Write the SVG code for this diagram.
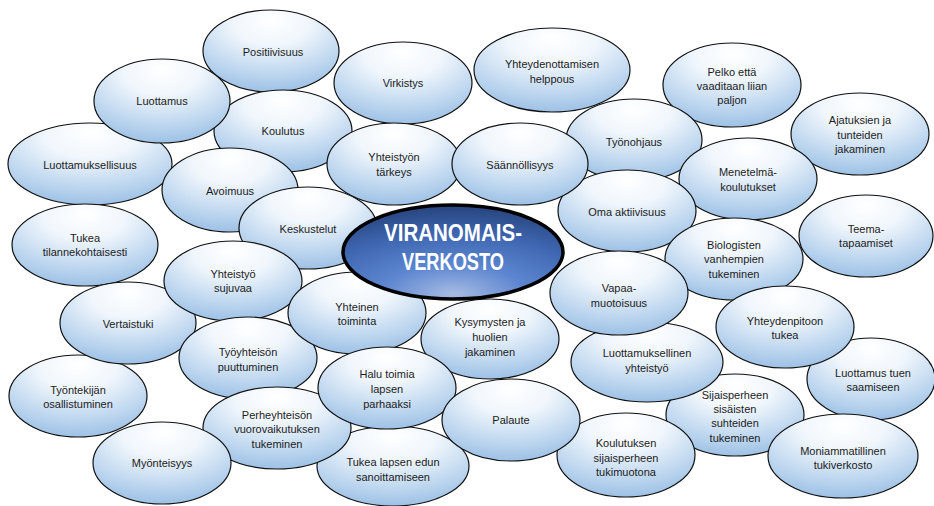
<svg xmlns="http://www.w3.org/2000/svg" width="934" height="506" viewBox="0 0 934 506">
  <defs>
    <radialGradient id="bubble" cx="0.5" cy="0.2" r="0.8" fx="0.5" fy="0.12">
      <stop offset="0" stop-color="#ffffff"/>
      <stop offset="0.35" stop-color="#f0f6fc"/>
      <stop offset="0.78" stop-color="#bad4ee"/>
      <stop offset="1" stop-color="#9dc1e5"/>
    </radialGradient>
    <radialGradient id="hub" cx="0.5" cy="1" r="0.95" fx="0.5" fy="0.95">
      <stop offset="0" stop-color="#a7bce3"/>
      <stop offset="0.35" stop-color="#5d86d0"/>
      <stop offset="0.7" stop-color="#3f67b2"/>
      <stop offset="1" stop-color="#2a4984"/>
    </radialGradient>
    <style>
      .b { fill: url(#bubble); stroke: #111; stroke-width: 1.2; }
      .t { font-family: "Liberation Sans", Arial, sans-serif; font-size: 11px; fill: #1c1c1c; text-anchor: middle; }
      .hub { fill: url(#hub); stroke: #000; stroke-width: 3.5; }
      .ht { font-family: "Liberation Sans", Arial, sans-serif; font-size: 23px; font-weight: bold; fill: #fff; text-anchor: middle; }
    </style>
  </defs>

  <g id="nodes">
    <g id="positiivisuus"><ellipse class="b" cx="271" cy="51" rx="68" ry="41"/><text class="t" x="273" y="56">Positiivisuus</text></g>
    <g id="virkistys"><ellipse class="b" cx="403" cy="83" rx="69" ry="41"/><text class="t" x="403" y="87">Virkistys</text></g>
    <g id="yhteydenottaminen"><ellipse class="b" cx="552" cy="70" rx="78" ry="42"/><text class="t" x="552" y="68">Yhteydenottamisen<tspan x="552" y="83">helppous</tspan></text></g>
    <g id="pelko"><ellipse class="b" cx="732" cy="85" rx="69" ry="42"/><text class="t" x="732" y="76">Pelko että<tspan x="732" y="90">vaaditaan liian</tspan><tspan x="732" y="104">paljon</tspan></text></g>
    <g id="koulutus"><ellipse class="b" cx="283" cy="131" rx="69" ry="41"/><text class="t" x="283" y="135">Koulutus</text></g>
    <g id="luottamuksellisuus"><ellipse class="b" cx="90" cy="164" rx="82" ry="41"/><text class="t" x="90" y="169">Luottamuksellisuus</text></g>
    <g id="luottamus"><ellipse class="b" cx="162" cy="101" rx="68" ry="42"/><text class="t" x="162" y="105">Luottamus</text></g>
    <g id="tyonohjaus"><ellipse class="b" cx="634" cy="140" rx="68" ry="41"/><text class="t" x="634" y="146">Työnohjaus</text></g>
    <g id="ajatukset"><ellipse class="b" cx="860" cy="134" rx="69" ry="41"/><text class="t" x="860" y="124">Ajatuksien ja<tspan x="860" y="139">tunteiden</tspan><tspan x="860" y="153">jakaminen</tspan></text></g>
    <g id="yhteistyon-tarkeys"><ellipse class="b" cx="394" cy="164" rx="67" ry="41"/><text class="t" x="394" y="161">Yhteistyön<tspan x="394" y="176">tärkeys</tspan></text></g>
    <g id="menetelmakoulutukset"><ellipse class="b" cx="748" cy="179" rx="69" ry="41"/><text class="t" x="748" y="176">Menetelmä-<tspan x="748" y="191">koulutukset</tspan></text></g>
    <g id="oma-aktiivisuus"><ellipse class="b" cx="627" cy="211" rx="69" ry="41"/><text class="t" x="627" y="216">Oma aktiivisuus</text></g>
    <g id="saannollisyys"><ellipse class="b" cx="520" cy="164" rx="68" ry="41"/><text class="t" x="520" y="169">Säännöllisyys</text></g>
    <g id="avoimuus"><ellipse class="b" cx="230" cy="190" rx="68" ry="42"/><text class="t" x="230" y="195">Avoimuus</text></g>
    <g id="keskustelut"><ellipse class="b" cx="308" cy="228" rx="69" ry="41"/><text class="t" x="308" y="233">Keskustelut</text></g>
    <g id="teematapaamiset"><ellipse class="b" cx="866" cy="236" rx="67" ry="41"/><text class="t" x="866" y="233">Teema-<tspan x="866" y="247">tapaamiset</tspan></text></g>
    <g id="tukea-tilanne"><ellipse class="b" cx="85" cy="245" rx="73" ry="41"/><text class="t" x="85" y="242">Tukea<tspan x="85" y="256">tilannekohtaisesti</tspan></text></g>
    <g id="biologiset-vanhemmat"><ellipse class="b" cx="734" cy="259" rx="69" ry="41"/><text class="t" x="734" y="249">Biologisten<tspan x="734" y="263">vanhempien</tspan><tspan x="734" y="278">tukeminen</tspan></text></g>
    <g id="tyontekija"><ellipse class="b" cx="78" cy="396" rx="69" ry="41"/><text class="t" x="78" y="394">Työntekijän<tspan x="78" y="408">osallistuminen</tspan></text></g>
    <g id="vertaistuki"><ellipse class="b" cx="128" cy="323" rx="68" ry="41"/><text class="t" x="128" y="328">Vertaistuki</text></g>
    <g id="yhteistyo-sujuvaa"><ellipse class="b" cx="233" cy="281" rx="69" ry="40"/><text class="t" x="233" y="278">Yhteistyö<tspan x="233" y="292">sujuvaa</tspan></text></g>
    <g id="tyoyhteiso"><ellipse class="b" cx="248" cy="358" rx="69" ry="41"/><text class="t" x="248" y="356">Työyhteisön<tspan x="248" y="371">puuttuminen</tspan></text></g>
    <g id="yhteinen-toiminta"><ellipse class="b" cx="357" cy="313" rx="69" ry="41"/><text class="t" x="357" y="311">Yhteinen<tspan x="357" y="325">toiminta</tspan></text></g>
    <g id="luottamus-tuki"><ellipse class="b" cx="871" cy="379" rx="64" ry="41"/><text class="t" x="873" y="377">Luottamus tuen<tspan x="873" y="391">saamiseen</tspan></text></g>
    <g id="yhteydenpito"><ellipse class="b" cx="785" cy="327" rx="69" ry="41"/><text class="t" x="785" y="325">Yhteydenpitoon<tspan x="785" y="339">tukea</tspan></text></g>
    <g id="sisaiset-suhteet"><ellipse class="b" cx="735" cy="415" rx="69" ry="41"/><text class="t" x="735" y="399">Sijaisperheen<tspan x="735" y="413">sisäisten</tspan><tspan x="735" y="427">suhteiden</tspan><tspan x="735" y="442">tukeminen</tspan></text></g>
    <g id="luottamuksellinen-yhteistyo"><ellipse class="b" cx="647" cy="362" rx="76" ry="40"/><text class="t" x="647" y="357">Luottamuksellinen<tspan x="647" y="372">yhteistyö</tspan></text></g>
    <g id="vapaamuotoisuus"><ellipse class="b" cx="619" cy="293" rx="69" ry="42"/><text class="t" x="619" y="292">Vapaa-<tspan x="619" y="307">muotoisuus</tspan></text></g>
    <g id="kysymykset"><ellipse class="b" cx="490" cy="339" rx="69" ry="40"/><text class="t" x="490" y="326">Kysymysten ja<tspan x="490" y="341">huolien</tspan><tspan x="490" y="356">jakaminen</tspan></text></g>
    <g id="lapsen-etu"><ellipse class="b" cx="393" cy="466" rx="76" ry="40"/><text class="t" x="393" y="466">Tukea lapsen edun<tspan x="393" y="481">sanoittamiseen</tspan></text></g>
    <g id="perheyhteiso"><ellipse class="b" cx="277" cy="428" rx="74" ry="41"/><text class="t" x="277" y="419">Perheyhteisön<tspan x="277" y="433">vuorovaikutuksen</tspan><tspan x="277" y="448">tukeminen</tspan></text></g>
    <g id="halu-toimia"><ellipse class="b" cx="387" cy="388" rx="69" ry="41"/><text class="t" x="387" y="378">Halu toimia<tspan x="387" y="393">lapsen</tspan><tspan x="387" y="408">parhaaksi</tspan></text></g>
    <g id="myonteisyys"><ellipse class="b" cx="162" cy="463" rx="69" ry="41"/><text class="t" x="162" y="467">Myönteisyys</text></g>
    <g id="koulutus-tukimuoto"><ellipse class="b" cx="626" cy="455" rx="69" ry="42"/><text class="t" x="626" y="447">Koulutuksen<tspan x="626" y="462">sijaisperheen</tspan><tspan x="626" y="476">tukimuotona</tspan></text></g>
    <g id="palaute"><ellipse class="b" cx="511" cy="420" rx="69" ry="41"/><text class="t" x="511" y="424">Palaute</text></g>
    <g id="moniammatillinen"><ellipse class="b" cx="843" cy="456" rx="75" ry="42"/><text class="t" x="843" y="455">Moniammatillinen<tspan x="843" y="469">tukiverkosto</tspan></text></g>

    <g id="viranomaisverkosto">
      <ellipse class="hub" cx="453" cy="252" rx="110" ry="47"/>
      <text class="ht" x="453" y="241" textLength="138" lengthAdjust="spacingAndGlyphs">VIRANOMAIS-</text>
      <text class="ht" x="453" y="270" textLength="102" lengthAdjust="spacingAndGlyphs">VERKOSTO</text>
    </g>
  </g>
  <g id="connectors"/>
</svg>
